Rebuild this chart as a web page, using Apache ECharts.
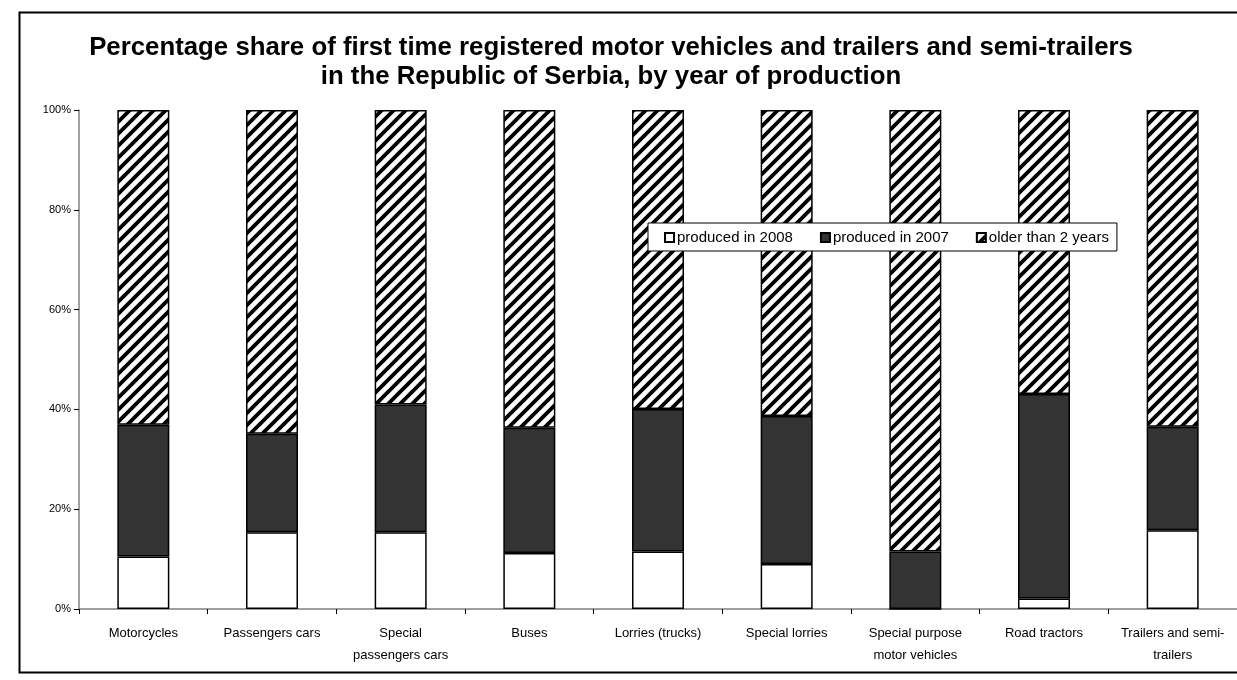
<!DOCTYPE html>
<html>
<head>
<meta charset="utf-8">
<script src="https://cdn.jsdelivr.net/npm/echarts@6/dist/echarts.min.js"></script>
<style>
html,body{margin:0;padding:0;background:#fff;}
#chart{width:1237px;height:680px;}
</style>
</head>
<body>
<div id="chart"></div>
<script>
const categories = ['Motorcycles', 'Passengers cars', 'Special\npassengers cars', 'Buses', 'Lorries (trucks)', 'Special lorries', 'Special purpose\nmotor vehicles', 'Road tractors', 'Trailers and semi-\ntrailers'];
const produced2008 = [10.5, 15.4, 15.4, 11.2, 11.5, 9.0, 0, 2.1, 15.8];
const produced2007 = [26.4, 19.7, 25.6, 25.1, 28.6, 29.7, 11.5, 41.0, 20.7];
const olderThan2 = [63.1, 64.9, 59.0, 63.7, 59.9, 61.3, 88.5, 56.9, 63.5];
const seriesNames = ['produced in 2008', 'produced in 2007', 'older than 2 years'];
const yTicks = [0, 20, 40, 60, 80, 100];

function hatch() {
  const s = 12;
  const c = document.createElement('canvas');
  c.width = s; c.height = s;
  const g = c.getContext('2d');
  g.fillStyle = '#fff';
  g.fillRect(0, 0, s, s);
  g.strokeStyle = '#000';
  g.lineWidth = 3.8;
  g.beginPath();
  g.moveTo(-2, s + 2); g.lineTo(s + 2, -2);
  g.moveTo(-2, 2); g.lineTo(2, -2);
  g.moveTo(s - 2, s + 2); g.lineTo(s + 2, s - 2);
  g.stroke();
  return c;
}

const chart = echarts.init(document.getElementById('chart'), null, {renderer: 'canvas'});
const font = 'Liberation Sans, Arial, sans-serif';
const bw = 52;
const opt = {
  animation: false,
  backgroundColor: '#fff',
  textStyle: {fontFamily: font},
  title: {
    text: 'Percentage share of first time registered motor vehicles and trailers and semi-trailers\nin the Republic of Serbia, by year of production',
    left: 606, top: 28, textAlign: 'center',
    textStyle: {fontFamily: font, fontWeight: 'bold', fontSize: 25.8, color: '#000', lineHeight: 29}
  },
  graphic: [{
    type: 'rect', left: 17, top: 10, silent: true,
    shape: {width: 1240, height: 660},
    style: {fill: 'none', stroke: '#000', lineWidth: 2}
  }],
  legend: {
    left: 648, top: 223,
    data: seriesNames,
    icon: 'rect',
    itemWidth: 9, itemHeight: 9, itemGap: 27,
    padding: [7, 8, 6, 16],
    borderColor: '#000', borderWidth: 1, backgroundColor: '#fff',
    textStyle: {fontFamily: font, fontSize: 15, color: '#000', padding: [0, 0, 0, -2]},
    selectedMode: false
  },
  grid: {left: 79, right: -8, top: 110, bottom: 71},
  xAxis: {
    type: 'category', data: categories,
    axisLine: {lineStyle: {color: '#808080', width: 1.5}},
    axisTick: {show: true, length: 5, lineStyle: {color: '#000'}},
    axisLabel: {fontFamily: font, fontSize: 13, color: '#000', margin: 13, lineHeight: 22, interval: 0}
  },
  yAxis: {
    type: 'value', min: 0, max: 100, interval: 20,
    axisLine: {show: true, lineStyle: {color: '#808080', width: 1.5}},
    axisTick: {show: true, length: 5, lineStyle: {color: '#000'}},
    splitLine: {show: false},
    axisLabel: {fontFamily: font, fontSize: 11, color: '#000', margin: 8, formatter: v => yTicks.includes(v) ? v + '%' : ''}
  },
  series: [
    {name: seriesNames[0], type: 'bar', stack: 't', data: produced2008, barWidth: bw,
     itemStyle: {color: '#fff', borderColor: '#000', borderWidth: 1.5}},
    {name: seriesNames[1], type: 'bar', stack: 't', data: produced2007, barWidth: bw,
     itemStyle: {color: '#333333', borderColor: '#000', borderWidth: 1.5}},
    {name: seriesNames[2], type: 'bar', stack: 't', data: olderThan2, barWidth: bw,
     itemStyle: {color: {image: hatch(), repeat: 'repeat'}, borderColor: '#000', borderWidth: 1.5}}
  ]
};
chart.setOption(opt);
</script>
</body>
</html>
